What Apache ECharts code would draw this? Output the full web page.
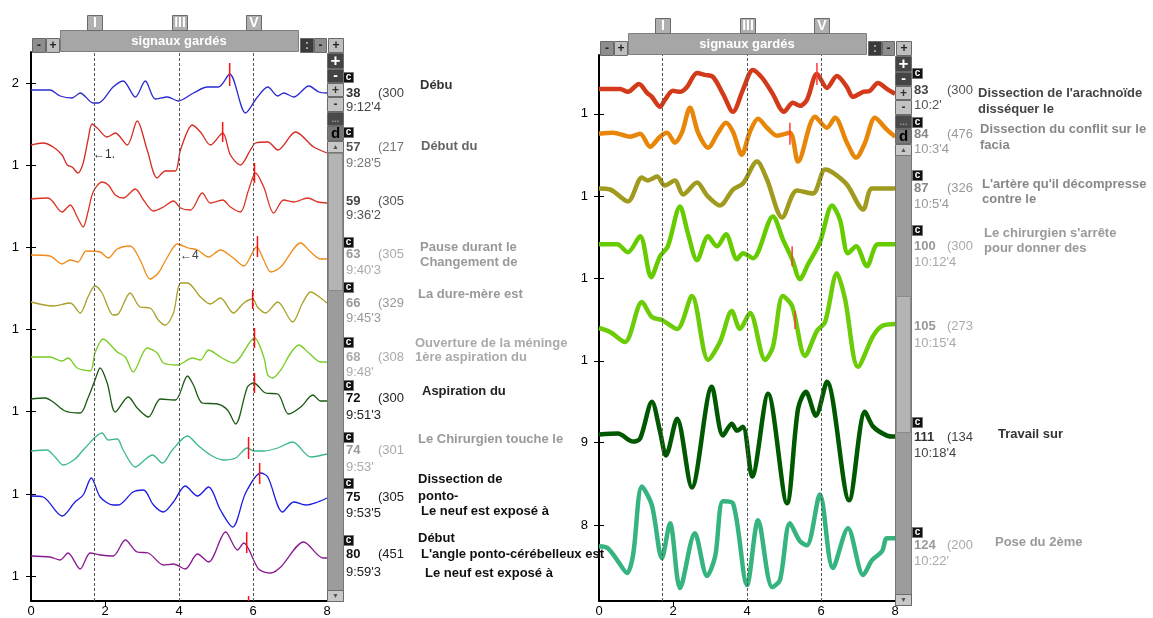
<!DOCTYPE html>
<html>
<head>
<meta charset="utf-8">
<script src="https://cdn.jsdelivr.net/npm/echarts@6/dist/echarts.min.js"></script>
<style>
  html, body { margin: 0; padding: 0; background: #fff; }
  #chart { width: 1153px; height: 618px; }
</style>
</head>
<body>
<div id="chart"></div>
<script>
// ---- data: traces as x (0..8) and amplitude values ----
const zip = (xs, vs) => xs.map((x, i) => [x, vs[i]]);

// left panel
const L38_x = [0, 0.51, 0.79, 1.11, 1.33, 1.68, 1.82, 2.22, 2.49, 2.82, 3.09, 3.36, 3.69, 3.98, 4.39, 4.77, 5.07, 5.37, 5.80, 6.12, 6.40, 6.67, 6.83, 7.10, 7.51, 7.78, 8];
const L38_v = [511, 511, 505, 503, 508, 498, 498, 514, 520, 504, 520, 502, 504, 500, 508, 514, 514, 527, 488, 504, 514, 505, 508, 504, 515, 509, 508];
const L57_x = [0, 0.33, 0.60, 0.84, 0.98, 1.11, 1.27, 1.41, 1.54, 1.65, 1.79, 2.06, 2.28, 2.60, 2.87, 3.14, 3.41, 3.63, 3.90, 4.04, 4.36, 4.58, 4.85, 5.18, 5.39, 5.66, 5.93, 6.07, 6.40, 6.67, 7.15, 7.64, 8];
const L57_v = [456, 458, 454, 446, 436, 434, 428, 438, 461, 477, 473, 464, 468, 456, 480, 451, 423, 430, 430, 451, 476, 469, 456, 468, 446, 436, 451, 458, 459, 451, 469, 454, 448];
const L59_x = [0, 0.46, 0.84, 1.06, 1.25, 1.41, 1.54, 1.68, 1.92, 2.09, 2.28, 2.49, 2.82, 3.04, 3.31, 3.58, 3.85, 4.04, 4.31, 4.63, 4.85, 5.18, 5.39, 5.66, 5.88, 6.07, 6.29, 6.56, 6.83, 7.10, 7.48, 7.75, 8];
const L59_v = [402, 403, 389, 396, 384, 374, 389, 409, 419, 416, 406, 403, 412, 401, 390, 394, 400, 393, 391, 408, 398, 401, 394, 389, 411, 428, 414, 388, 401, 399, 403, 399, 398];
const L63_x = [0, 0.51, 0.84, 1.06, 1.27, 1.49, 1.87, 2.09, 2.33, 2.68, 2.95, 3.22, 3.44, 3.69, 3.96, 4.25, 4.50, 4.80, 5.12, 5.47, 5.75, 6.10, 6.29, 6.48, 6.75, 7.29, 7.56, 7.83, 8];
const L63_v = [346, 345, 337, 341, 339, 350, 349, 343, 352, 355, 341, 322, 328, 344, 357, 353, 351, 344, 351, 343, 335, 354, 341, 329, 334, 358, 349, 342, 342];
const L66_x = [0, 0.60, 1.06, 1.33, 1.54, 1.73, 1.92, 2.22, 2.36, 2.68, 2.95, 3.22, 3.44, 3.63, 3.85, 4.04, 4.23, 4.58, 4.85, 5.12, 5.47, 5.75, 5.99, 6.12, 6.34, 6.67, 7.07, 7.34, 7.56, 7.83, 8];
const L66_v = [299, 295, 298, 288, 304, 315, 308, 286, 287, 308, 294, 293, 281, 276, 288, 318, 318, 304, 297, 303, 288, 298, 302, 294, 288, 299, 279, 298, 309, 303, 298];
const L68_x = [0, 0.51, 0.84, 1.00, 1.25, 1.60, 1.73, 1.95, 2.33, 2.55, 2.76, 3.14, 3.41, 3.58, 3.96, 4.36, 4.58, 4.80, 5.12, 5.47, 6.04, 6.29, 6.40, 6.53, 6.75, 7.02, 7.24, 7.51, 7.83, 8];
const L68_v = [244, 244, 240, 243, 233, 230, 248, 262, 249, 244, 229, 253, 248, 238, 236, 243, 241, 251, 244, 238, 263, 244, 226, 223, 231, 248, 256, 248, 239, 239];
const L72_x = [0, 0.38, 0.60, 0.92, 1.33, 1.54, 1.73, 1.87, 2.06, 2.28, 2.63, 2.87, 3.17, 3.50, 3.90, 4.23, 4.39, 4.63, 5.04, 5.31, 5.53, 5.85, 6.02, 6.34, 6.67, 6.96, 7.29, 7.62, 7.83, 8];
const L72_v = [202, 203, 199, 190, 188, 203, 221, 233, 218, 189, 204, 193, 184, 202, 201, 225, 216, 198, 197, 191, 177, 214, 218, 208, 207, 187, 194, 206, 200, 200];
const L74_x = [0, 0.43, 0.65, 0.87, 1.19, 1.46, 1.92, 2.09, 2.33, 2.49, 2.82, 3.04, 3.28, 3.55, 3.82, 4.23, 4.50, 4.85, 5.20, 5.53, 5.85, 6.02, 6.29, 6.67, 7.07, 7.56, 8];
const L74_v = [150, 151, 144, 136, 142, 153, 168, 161, 162, 151, 134, 140, 146, 138, 151, 165, 156, 146, 141, 143, 153, 150, 150, 153, 159, 144, 147];
const L75_x = [0, 0.33, 0.84, 1.19, 1.41, 1.63, 1.87, 2.22, 2.36, 2.76, 3.04, 3.31, 3.58, 3.85, 4.17, 4.50, 4.80, 5.12, 5.45, 5.80, 6.21, 6.40, 6.80, 7.10, 7.43, 7.75, 8];
const L75_v = [105, 104, 85, 99, 106, 123, 104, 96, 96, 109, 111, 96, 89, 99, 115, 105, 114, 91, 74, 108, 128, 124, 89, 99, 96, 99, 103];
const L80_x = [0, 0.51, 0.79, 1.00, 1.33, 1.60, 1.87, 2.22, 2.55, 2.87, 3.17, 3.58, 3.85, 4.17, 4.50, 4.80, 5.26, 5.58, 5.75, 6.15, 6.48, 6.75, 7.37, 7.89, 8];
const L80_v = [45, 44, 41, 48, 32, 48, 46, 45, 61, 49, 48, 36, 37, 32, 47, 39, 69, 51, 58, 32, 28, 34, 59, 43, 43];

// right panel
const R83_x = [0, 0.57, 0.78, 1.08, 1.30, 1.43, 1.65, 1.78, 2.00, 2.19, 2.38, 2.65, 2.86, 3.08, 3.35, 3.62, 3.89, 4.16, 4.41, 4.68, 5.00, 5.24, 5.43, 5.62, 5.89, 6.16, 6.43, 6.70, 6.86, 7.14, 7.32, 7.54, 7.78, 8];
const R83_v = [514, 514, 511, 519, 510, 506, 496, 503, 512, 511, 516, 530, 528, 526, 509, 491, 513, 533, 525, 510, 491, 500, 497, 503, 529, 515, 527, 516, 506, 511, 512, 520, 514, 509];
const R84_x = [0, 0.38, 0.84, 1.11, 1.38, 1.65, 1.84, 2.05, 2.24, 2.46, 2.68, 2.95, 3.22, 3.43, 3.62, 3.86, 4.08, 4.30, 4.54, 4.81, 5.16, 5.38, 5.84, 6.16, 6.38, 6.70, 6.95, 7.19, 7.46, 7.78, 8];
const R84_v = [469, 470, 466, 469, 456, 466, 470, 460, 470, 495, 470, 455, 470, 480, 471, 448, 471, 484, 475, 467, 470, 441, 486, 475, 485, 460, 445, 460, 485, 473, 466];
const R87_x = [0, 0.30, 0.78, 1.16, 1.32, 1.57, 1.78, 2.05, 2.27, 2.65, 2.92, 3.27, 3.62, 3.89, 4.27, 4.54, 4.95, 5.35, 5.78, 6.11, 6.32, 6.70, 7.14, 7.38, 8];
const R87_v = [414, 413, 401, 425, 422, 426, 417, 422, 408, 420, 407, 397, 413, 419, 441, 423, 385, 412, 409, 433, 430, 418, 393, 414, 414];
const R100_x = [0, 0.49, 0.78, 1.11, 1.41, 1.65, 1.86, 2.19, 2.41, 2.65, 2.95, 3.19, 3.43, 3.73, 3.89, 4.16, 4.70, 4.97, 5.22, 5.43, 5.65, 5.97, 6.30, 6.51, 6.73, 6.95, 7.24, 7.54, 8];
const R100_v = [358, 358, 350, 366, 325, 346, 356, 396, 368, 342, 366, 356, 368, 343, 349, 344, 386, 363, 343, 323, 338, 360, 397, 383, 349, 356, 336, 358, 358];
const R105_x = [0, 0.30, 0.70, 1.16, 1.43, 1.70, 2.11, 2.51, 2.95, 3.27, 3.59, 3.81, 4.08, 4.49, 4.70, 4.97, 5.22, 5.57, 5.89, 6.11, 6.43, 6.65, 7.00, 7.41, 7.65, 8];
const R105_v = [274, 270, 260, 300, 285, 282, 273, 306, 242, 260, 291, 273, 289, 242, 255, 306, 296, 246, 271, 280, 329, 303, 235, 266, 276, 278];
const R111_x = [0, 0.51, 0.92, 1.11, 1.43, 1.65, 1.81, 2.11, 2.51, 3.05, 3.35, 3.59, 3.73, 3.89, 4.14, 4.57, 5.08, 5.38, 5.59, 5.86, 6.16, 6.76, 7.19, 7.41, 7.78, 8];
const R111_v = [167, 168, 160, 163, 200, 170, 146, 183, 114, 215, 166, 178, 171, 175, 125, 208, 98, 193, 210, 186, 220, 101, 190, 175, 166, 165];
const R124_x = [0, 0.24, 0.51, 0.76, 0.92, 1.16, 1.43, 1.70, 1.92, 2.19, 2.59, 2.92, 3.14, 3.35, 3.62, 4.00, 4.30, 4.68, 4.89, 5.16, 5.43, 5.62, 5.97, 6.32, 6.73, 7.14, 7.38, 7.65, 7.78, 8];
const R124_v = [55, 53, 40, 28, 46, 115, 96, 43, 78, 13, 68, 25, 45, 100, 98, 16, 81, 14, 21, 78, 60, 56, 107, 33, 73, 26, 41, 50, 63, 63];

// red event markers: [x, top, bottom]
const leftMarks = [[5.37, 538, 515], [5.18, 479, 459], [6.04, 438, 418], [6.12, 365, 344], [5.99, 311, 292], [6.04, 273, 253], [6.04, 228, 208], [5.88, 164, 142], [6.18, 138, 117], [5.83, 69, 48], [5.88, 5, 0]];
const rightMarks = [[5.89, 540, 518], [5.16, 480, 458], [5.22, 356, 336], [5.30, 291, 273]];

// vertical reference lines (I, III, V)
const leftRefs = [1.7, 4, 6.02];
const rightRefs = [1.7, 4, 6];

// tick labels
const leftTickValues = [25, 107, 190, 272, 354, 436, 518];
const leftTickLabels = ['1', '1', '1', '1', '1', '1', '2'];
const rightTickValues = [76, 159, 241, 324, 406, 489];
const rightTickLabels = ['8', '9', '1', '1', '1', '1'];

// record labels
const leftIds = ['38', '57', '59', '63', '66', '68', '72', '74', '75', '80'];
const leftCounts = ['(300', '(217', '(305', '(305', '(329', '(308', '(300', '(301', '(305', '(451'];
const leftTimes = ["9:12'4", "9:28'5", "9:36'2", "9:40'3", "9:45'3", "9:48'", "9:51'3", "9:53'", "9:53'5", "9:59'3"];
const leftNotes = [['Débu'], ['Début du'], [], ['Pause durant le', 'Changement de'], ['La dure-mère est'],
  ['Ouverture de la méninge', '1ère aspiration du'], ['Aspiration du'], ['Le Chirurgien touche le'],
  ['Dissection de', 'ponto-', 'Le neuf est exposé à'], ['Début', "L'angle ponto-cérébelleux est", 'Le neuf est exposé à']];
const rightIds = ['83', '84', '87', '100', '105', '111', '124'];
const rightCounts = ['(300', '(476', '(326', '(300', '(273', '(134', '(200'];
const rightTimes = ["10:2'", "10:3'4", "10:5'4", "10:12'4", "10:15'4", "10:18'4", "10:22'"];
const rightNotes = [["Dissection de l'arachnoïde", 'disséquer le'], ['Dissection du conflit sur le', 'facia'],
  ["L'artère qu'il décompresse", 'contre le'], ["Le chirurgien s'arrête", 'pour donner des'], [], ['Travail sur'], ['Pose du 2ème']];

// ---- layout & style ----
const FONT = "'Liberation Sans', Arial, Helvetica, sans-serif";
const leftColors = ['#2a2ad0', '#d42a20', '#dc3322', '#f08a18', '#a8a028', '#78cc22', '#1a5a12', '#3cb88a', '#1a1ae0', '#8a1a90'];
const rightColors = ['#d23a1a', '#e8860a', '#a09a1e', '#66cc00', '#6ccc08', '#005800', '#36b480'];

const leftLayout = {
  idX: 346, countX: 378, badgeX: 343,
  idY: [93, 147, 201, 254, 303, 357, 398, 450, 497, 554],
  timeY: [107, 163, 215, 270, 318, 372, 415, 467, 513, 572],
  badgeY: [72, 127, null, 237, 282, 337, 380, 432, 478, 535],
  notePos: [[[420, 85]], [[421, 146]], [], [[420, 247], [420, 262]], [[418, 294]], [[415, 343], [415, 357]],
    [[422, 391]], [[418, 439]], [[418, 479], [418, 496], [421, 511]], [[418, 538], [421, 554], [425, 573]]],
  ink: ['#333', '#555', '#444', '#999', '#999', '#aaa', '#111', '#999', '#111', '#111'],
  ink2: ['#444', '#777', '#555', '#aaa', '#999', '#aaa', '#222', '#aaa', '#222', '#222'],
  noteInk: ['#333', '#666', '#444', '#999', '#999', '#aaa', '#222', '#999', '#111', '#111']
};
const rightLayout = {
  idX: 914, countX: 947, badgeX: 912,
  idY: [90, 134, 188, 246, 326, 437, 545],
  timeY: [105, 149, 204, 262, 343, 453, 561],
  badgeY: [68, 117, 170, 225, null, 417, 527],
  notePos: [[[978, 93], [978, 109]], [[980, 129], [980, 145]], [[982, 184], [982, 199]], [[984, 233], [984, 248]], [], [[998, 434]], [[995, 542]]],
  ink: ['#444', '#888', '#888', '#999', '#999', '#333', '#999'],
  ink2: ['#555', '#999', '#999', '#aaa', '#aaa', '#444', '#aaa'],
  noteInk: ['#444', '#888', '#888', '#999', '#999', '#333', '#999']
};

// ---- graphic chrome ----
const els = [];
function rect(x, y, w, h, fill, stroke) {
  els.push({ type: 'rect', silent: true, z: 10, shape: { x: x + 0.5, y: y + 0.5, width: w, height: h },
    style: { fill: fill, stroke: stroke || null, lineWidth: 1 } });
}
function text(x, y, str, size, weight, color, align) {
  els.push({ type: 'text', silent: true, z: 11, x: x, y: y,
    style: { text: str, font: weight + ' ' + size + 'px ' + FONT, fill: color,
      align: align || 'left', verticalAlign: 'middle', textAlign: align || 'left', textVerticalAlign: 'middle' } });
}
function button(x, y, w, h, fill, label, color, size) {
  rect(x, y, w, h, fill, '#6a6a6a');
  if (label) text(x + w / 2 + 0.5, y + h / 2 + 1, label, size || 12, 'bold', color, 'center');
}
function chrome(dx, dy, thumbTop, thumbBot, plotBottom) {
  button(32 + dx, 38 + dy, 13, 14, '#8e8e8e', '-', '#222');
  button(46 + dx, 38 + dy, 13, 14, '#bebebe', '+', '#222');
  rect(60 + dx, 30 + dy, 238, 21, '#a6a6a6', '#808080');
  text(179 + dx, 41 + dy, 'signaux gardés', 13, 'bold', '#fff', 'center');
  [[87, 'I'], [172, 'III'], [246, 'V']].forEach(function (b) {
    button(b[0] + dx, 15 + dy, 15, 15, '#b0b0b0', b[1], '#fff', 14);
  });
  button(300 + dx, 38 + dy, 13, 14, '#3a3a3a', ':', '#bbb');
  button(314 + dx, 38 + dy, 12, 14, '#8e8e8e', '-', '#222');
  button(328 + dx, 38 + dy, 15, 14, '#bebebe', '+', '#222');
  const sx = 327 + dx;
  button(sx, 53 + dy, 16, 15, '#444', '+', '#fff', 17);
  button(sx, 69 + dy, 16, 13, '#444', '-', '#fff', 14);
  button(sx, 83 + dy, 16, 13, '#c2c2c2', '+', '#333', 12);
  button(sx, 97 + dy, 16, 14, '#c2c2c2', '-', '#333', 12);
  button(sx, 112 + dy, 16, 13, '#4a4a4a', '...', '#999', 9);
  button(sx, 126 + dy, 16, 14, '#777', 'd', '#000', 15);
  button(sx, 141 + dy, 16, 11, '#c8c8c8', '▲', '#555', 7);
  rect(sx, 152 + dy, 16, plotBottom - 152 - dy, '#9c9c9c', '#777');
  rect(sx + 1, thumbTop, 14, thumbBot - thumbTop, '#b4b4b4', '#8a8a8a');
  button(sx, plotBottom - 11, 16, 11, '#c8c8c8', '▼', '#555', 7);
}
chrome(0, 0, 153, 290, 601);
chrome(568, 3, 296, 432, 605);

function records(ids, counts, times, notes, L) {
  ids.forEach(function (id, i) {
    if (L.badgeY[i] !== null) {
      rect(L.badgeX, L.badgeY[i], 10, 10, '#111', '#777');
      text(L.badgeX + 5.5, L.badgeY[i] + 5.5, 'c', 10, 'bold', '#fff', 'center');
    }
    text(L.idX, L.idY[i], id, 13, 'bold', L.ink[i]);
    text(L.countX, L.idY[i], counts[i], 13, 'normal', L.ink2[i]);
    text(L.idX, L.timeY[i], times[i], 13, 'normal', L.ink2[i]);
    notes[i].forEach(function (n, j) {
      text(L.notePos[i][j][0], L.notePos[i][j][1], n, 13, 'bold', L.noteInk[i]);
    });
  });
}
records(leftIds, leftCounts, leftTimes, leftNotes, leftLayout);
records(rightIds, rightCounts, rightTimes, rightNotes, rightLayout);
text(93, 155, '←1.', 12, 'normal', '#333');
text(180, 256, '←4', 12, 'normal', '#444');

// ---- series ----
const series = [];
function trace(data, color, width, panel, refs) {
  const s = { type: 'line', xAxisIndex: panel, yAxisIndex: panel * 2, data: data, smooth: 0.3,
    symbol: 'none', silent: true, z: 3, lineStyle: { color: color, width: width } };
  if (refs) {
    s.markLine = { silent: true, symbol: 'none', label: { show: false }, animation: false,
      lineStyle: { color: '#555', width: 1, type: [3, 2] },
      data: refs.map(function (r) { return { xAxis: r }; }) };
  }
  series.push(s);
}
const leftData = [zip(L38_x, L38_v), zip(L57_x, L57_v), zip(L59_x, L59_v), zip(L63_x, L63_v), zip(L66_x, L66_v),
  zip(L68_x, L68_v), zip(L72_x, L72_v), zip(L74_x, L74_v), zip(L75_x, L75_v), zip(L80_x, L80_v)];
const rightData = [zip(R83_x, R83_v), zip(R84_x, R84_v), zip(R87_x, R87_v), zip(R100_x, R100_v),
  zip(R105_x, R105_v), zip(R111_x, R111_v), zip(R124_x, R124_v)];
leftData.forEach(function (d, i) { trace(d, leftColors[i], 1.3, 0, i === 0 ? leftRefs : null); });
rightData.forEach(function (d, i) { trace(d, rightColors[i], 4.5, 1, i === 0 ? rightRefs : null); });

function marks(list, panel, color) {
  list.forEach(function (m) {
    series.push({ type: 'line', xAxisIndex: panel, yAxisIndex: panel * 2, data: [[m[0], m[1]], [m[0], m[2]]],
      symbol: 'none', silent: true, z: 5, lineStyle: { color: color, width: 1.5 } });
  });
}
marks(leftMarks, 0, '#ff1010');
marks(rightMarks, 1, '#ff3a3a');

// ---- axes ----
function tickLabel(values, labels) {
  return function (v) {
    const i = values.findIndex(function (t) { return Math.abs(t - v) < 0.5; });
    return i < 0 ? '' : labels[i];
  };
}
function bottomAxis(g) {
  return { gridIndex: g, type: 'value', min: 0, max: 8, interval: 2, position: 'bottom',
    axisLine: { onZero: false, lineStyle: { color: '#000', width: 2 } }, axisTick: { show: false },
    axisLabel: { fontSize: 13, color: '#000', margin: 4, fontFamily: FONT }, splitLine: { show: false } };
}
function topAxis(g) {
  return { gridIndex: g, type: 'value', min: 0, max: 8, position: 'top',
    axisLine: { show: false }, axisLabel: { show: false }, splitLine: { show: false },
    axisTick: { show: true, inside: true, length: 5, customValues: [2], lineStyle: { color: '#000' } } };
}
function sideAxis(g, max, values, labels, margin) {
  return { gridIndex: g, type: 'value', min: 0, max: max, position: 'left',
    axisLine: { show: true, onZero: false, lineStyle: { color: '#000', width: 2 } },
    axisTick: { show: true, inside: true, length: 5, customValues: values, lineStyle: { color: '#000' } },
    axisLabel: { show: true, customValues: values, formatter: tickLabel(values, labels), margin: margin,
      fontSize: 13, color: '#000', fontFamily: FONT },
    splitLine: { show: false } };
}
function mirrorAxis(g, max, values) {
  return { gridIndex: g, type: 'value', min: 0, max: max, position: 'right',
    axisLine: { show: false }, axisLabel: { show: false }, splitLine: { show: false },
    axisTick: { show: true, inside: true, length: 5, customValues: values, lineStyle: { color: '#000' } } };
}

const chart = echarts.init(document.getElementById('chart'));
chart.setOption({
  animation: false,
  backgroundColor: '#fff',
  grid: [
    { left: 31, top: 52, width: 296, height: 549 },
    { left: 599, top: 55, width: 296, height: 548 }
  ],
  xAxis: [bottomAxis(0), bottomAxis(1), topAxis(0), topAxis(1)],
  yAxis: [
    sideAxis(0, 549, leftTickValues, leftTickLabels, 12), mirrorAxis(0, 549, leftTickValues),
    sideAxis(1, 548, rightTickValues, rightTickLabels, 11), mirrorAxis(1, 548, rightTickValues)
  ],
  series: series,
  graphic: { elements: els }
});
</script>
</body>
</html>
